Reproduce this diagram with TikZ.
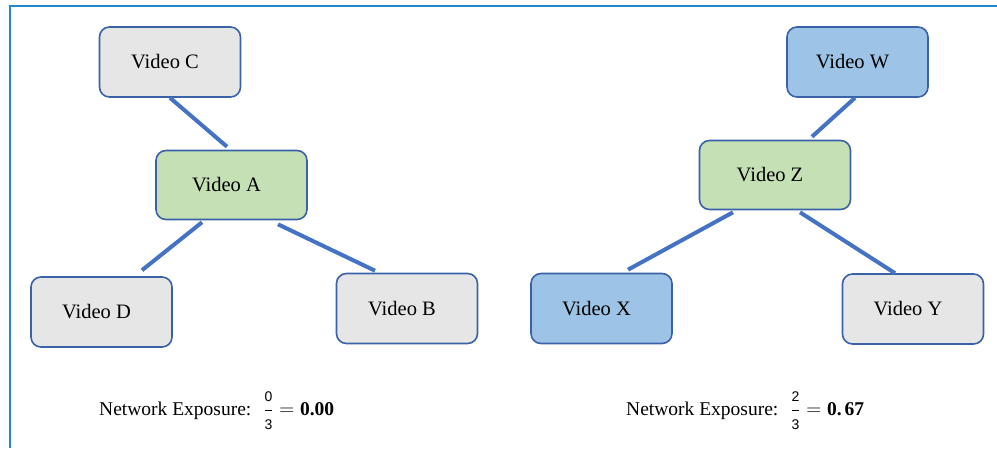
\documentclass[tikz,border=0pt]{standalone}
\usepackage{fontspec}
\setmainfont{Liberation Serif}
\newfontfamily\fracfont{Liberation Sans}
\usepackage{amsmath}
% small sans-serif fraction used in the exposure formulas
\newcommand{\expfrac}[2]{\dfrac{\text{\fracfont\fontsize{14}{15}\selectfont #1}}{\text{\fracfont\fontsize{14}{15}\selectfont #2}}}
\definecolor{frameblue}{HTML}{1F8ACB}
\definecolor{linkblue}{HTML}{4472C4}
\definecolor{boxedge}{HTML}{3A62A8}
\definecolor{grayfill}{HTML}{E7E6E6}
\definecolor{greenfill}{HTML}{C5E0B4}
\definecolor{bluefill}{HTML}{9DC3E6}
\tikzset{
  vbox/.style={draw=boxedge, line width=1.6pt, rounded corners=10pt,
    minimum width=141pt, minimum height=70pt, inner sep=0pt,
    font=\fontsize{20.5}{24}\selectfont,
    execute at begin node={\hspace*{-10pt}}},
  plain/.style={vbox, fill=grayfill},
  centre/.style={vbox, fill=greenfill, minimum width=151pt, minimum height=69pt},
  exposed/.style={vbox, fill=bluefill},
  link/.style={draw=linkblue, line width=4pt},
  caption/.style={font=\fontsize{19.5}{23}\selectfont, anchor=west, inner sep=0pt}
}
\begin{document}
\begin{tikzpicture}[x=1pt, y=-1pt]
  \useasboundingbox (0,0) rectangle (997,448);
  % outer frame (only top and left edges are visible)
  \draw[frameblue, line width=2.4pt] (10,448) -- (10,6) -- (997,6);

  % left network
  \node[plain]  (C) at (170,62)    {Video C};
  \node[centre] (A) at (231.5,185) {Video A};
  \node[plain]  (D) at (101.5,312) {Video D};
  \node[plain]  (B) at (407,308.5) {Video B};

  \draw[link] (C.south) -- ([shift={(-4.5,-3)}]A.north);
  \draw[link] ([shift={(-29.5,2)}]A.south) -- ([shift={(40.5,-6)}]D.north);
  \draw[link] ([shift={(46.5,4)}]A.south) -- ([shift={(-32,-2)}]B.north);

  % right network
  \node[exposed] (W) at (857.5,62)  {Video W};
  \node[centre]  (Z) at (775,175)   {Video Z};
  \node[exposed] (X) at (601.5,308.5) {Video X};
  \node[plain]   (Y) at (913,309)   {Video Y};

  \draw[link] ([shift={(-2.5,0)}]W.south) -- ([shift={(37,-3)}]Z.north);
  \draw[link] ([shift={(-42,2)}]Z.south) -- ([shift={(26.5,-3)}]X.north);
  \draw[link] ([shift={(25,2)}]Z.south) -- ([shift={(-18,0)}]Y.north);

  % exposure scores
  \node[caption] (scoreL) at (99,411)
    {Network Exposure:\hspace{12pt}$\expfrac{0}{3} = \textbf{0.00}$};
  \node[caption] (scoreR) at (626,411)
    {Network Exposure:\hspace{12pt}$\expfrac{2}{3} = \textbf{0.\hspace{3pt}67}$};
\end{tikzpicture}
\end{document}
